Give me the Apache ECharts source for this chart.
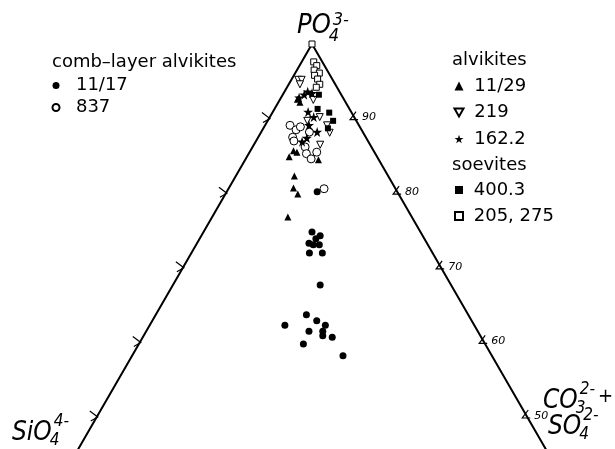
<!DOCTYPE html>
<html>
<head>
<meta charset="utf-8">
<script src="https://cdn.jsdelivr.net/npm/echarts@6/dist/echarts.min.js"></script>
<style>
  html, body { margin: 0; padding: 0; background: #fff; }
  #chart { width: 615px; height: 449px; }
</style>
</head>
<body>
<div id="chart"></div>
<script>
// Ternary compositions, each point as [PO4 %, CO3+SO4 %]; SiO4 % is the remainder.
const comb_11_17 = [
  [74.8, 12.6], [74.3, 13.8], [73.9, 13.5], [73.3, 13.0], [73.1, 13.6], [73.1, 14.3],
  [72.0, 13.7], [72.0, 15.2], [67.7, 17.1], [63.7, 17.5], [62.9, 19.1], [62.3, 20.4],
  [62.3, 15.7], [61.5, 18.9], [61.5, 20.5], [60.9, 20.8], [60.7, 22.0], [59.8, 19.1],
  [58.2, 24.5], [80.2, 10.5]
];
const comb_837 = [
  [89.1, 2.9], [88.5, 3.9], [88.9, 4.2], [87.5, 4.0], [88.2, 5.6], [87.0, 4.4],
  [86.2, 6.1], [85.5, 7.8], [85.3, 6.7], [84.6, 7.6], [80.6, 11.1]
];
const alv_11_29 = [
  [92.2, 2.5], [92.6, 2.0], [85.7, 5.0], [85.5, 5.5], [84.9, 4.9], [84.5, 8.5],
  [82.3, 6.8], [80.7, 7.5], [79.9, 8.4], [76.8, 8.8]
];
const alv_219 = [
  [95.2, 0.8], [95.2, 1.2], [94.6, 1.3], [92.5, 3.9], [89.7, 4.6], [90.2, 5.8],
  [89.1, 7.2], [88.1, 8.0], [86.5, 7.7]
];
const alv_162_2 = [
  [90.9, 4.1], [90.2, 5.1], [89.1, 5.1], [88.2, 6.5], [87.4, 5.7], [86.9, 5.4],
  [93.6, 2.7], [93.2, 2.5], [92.8, 2.1], [93.4, 3.3]
];
const soev_400_3 = [
  [93.2, 4.2], [91.3, 5.0], [90.8, 6.6], [89.7, 7.6], [88.7, 7.5]
];
const soev_205_275 = [
  [100, 0], [97.6, 1.4], [97.1, 2.0], [96.5, 2.0], [96.1, 2.8], [95.8, 2.4],
  [95.3, 3.0], [94.6, 3.6], [94.2, 3.4]
];

// PO4 levels marked along both sides of the triangle
const axisTicks = [90, 80, 70, 60, 50];
// lowest PO4 level the triangle sides are drawn down to
const sideEnd = 45.5;

// ternary [PO4, CO3+SO4] -> cartesian [x, y] (x: 0..100 base, y: PO4 level)
function toXY(p, c) { return [c + p / 2, p]; }
function pts(list) { return list.map(([p, c]) => toXY(p, c)); }

const TXT = '#000';
const LEG_FONT = 'DejaVu Sans';
const BIG_FONT = '"DejaVu Sans Condensed", "DejaVu Sans"';

const STAR = 'path://M50,0 L61.8,36.2 L100,36.2 L69.1,58.6 L80.9,95.1 L50,72.6 L19.1,95.1 L30.9,58.6 L0,36.2 L38.2,36.2 Z';
const DOWN_TRI = 'path://M0,0 L100,0 L50,86.6 Z';

function scatter(name, data, symbol, size, filled) {
  return {
    name, type: 'scatter', data: pts(data), symbol, symbolSize: size,
    itemStyle: filled
      ? { color: '#000', opacity: 1 }
      : { color: '#fff', borderColor: '#000', borderWidth: 1, opacity: 1 },
    emphasis: { disabled: true }, z: 5
  };
}

// ion labels: italic formula with a subscript and a superscript after it
const measure = document.createElement('canvas').getContext('2d');
function italic(size) { return 'italic ' + size + 'px ' + BIG_FONT; }
function txt(text, x, baseline, size) {
  // text is centred on y; the baseline sits about 0.35em below the centre
  return { type: 'text', x, y: baseline - 0.35 * size, style: { text, font: italic(size), fill: TXT, verticalAlign: 'middle' } };
}
function ion(x, baseline, main, subT, supT, size, small, subDrop, supRise) {
  measure.font = italic(size);
  const w = measure.measureText(main).width;
  return [
    txt(main, x, baseline, size),
    txt(subT, x + w - 2, baseline + subDrop, small),
    txt(supT, x + w + 2, baseline - supRise, small)
  ];
}

const chart = echarts.init(document.getElementById('chart'), null, { renderer: 'canvas' });

const legendText = { fontFamily: LEG_FONT, fontSize: 18, lineHeight: 20, color: TXT };

chart.setOption({
  animation: false,
  backgroundColor: '#fff',
  grid: { left: 10.65, right: 1.65, top: 44, bottom: 2.16 },
  xAxis: { type: 'value', min: 15, max: 85, show: false },
  yAxis: { type: 'value', min: 46, max: 100, show: false },
  legend: [
    {
      orient: 'vertical', left: 51.5, top: 75.5, padding: 0, itemGap: 2,
      itemWidth: 7, itemHeight: 7, selectedMode: false,
      data: ['11/17', '837'], formatter: n => '  ' + n, textStyle: legendText
    },
    {
      orient: 'vertical', left: 453.5, top: 76, padding: 0, itemGap: 6.5,
      itemWidth: 9, itemHeight: 9, selectedMode: false,
      data: ['11/29', '219', '162.2'], formatter: n => ' ' + n, textStyle: legendText
    },
    {
      orient: 'vertical', left: 454, top: 180, padding: 0, itemGap: 6,
      itemWidth: 8, itemHeight: 8, selectedMode: false,
      data: ['400.3', '205, 275'], formatter: n => ' ' + n, textStyle: legendText
    }
  ],
  graphic: [
    { type: 'text', x: 52, y: 62, style: { text: 'comb\u2013layer alvikites', font: '18px ' + LEG_FONT, fill: TXT, verticalAlign: 'middle' } },
    { type: 'text', x: 452, y: 60.8, style: { text: 'alvikites', font: '18px ' + LEG_FONT, fill: TXT, verticalAlign: 'middle' } },
    { type: 'text', x: 452, y: 165.8, style: { text: 'soevites', font: '18px ' + LEG_FONT, fill: TXT, verticalAlign: 'middle' } },
    // apex: PO4 3-
    ...ion(297, 35, 'PO', '4', '3-', 27, 18, 8, 8),
    // lower left: SiO4 4-
    ...ion(12, 442, 'SiO', '4', '4-', 26, 17, 5, 14),
    // lower right: CO3 2- + SO4 2-
    ...ion(543, 410, 'CO', '3', '2-', 26, 17, 5, 14),
    txt('+', 598, 404, 20),
    ...ion(548, 436, 'SO', '4', '2-', 26, 17, 5, 14)
  ],
  series: [
    {
      name: 'frame', type: 'line', clip: false, symbol: 'none', silent: true,
      data: [toXY(sideEnd, 0), toXY(100, 0), toXY(sideEnd, 100 - sideEnd)],
      lineStyle: { color: '#000', width: 2 }, z: 2
    },
    {
      name: 'ticks', type: 'custom', clip: false, silent: true, z: 3,
      data: axisTicks.map(v => [v / 2, v]),
      renderItem(params, api) {
        const p = api.value(1);
        const L = api.coord(toXY(p, 0));
        const R = api.coord(toXY(p, 100 - p));
        const st = { stroke: '#000', lineWidth: 1.2, fill: null };
        return {
          type: 'group',
          children: [
            { type: 'polyline', shape: { points: [[L[0] - 7, L[1] - 6], [L[0] + 1, L[1]], [L[0] - 6, L[1] + 4]] }, style: st },
            { type: 'polyline', shape: { points: [[R[0] + 1, R[1] - 7], [R[0] - 5, R[1] + 1], [R[0] + 3, R[1] + 1]] }, style: st },
            { type: 'text', x: R[0] + 7, y: R[1] - 1, style: { text: String(p), font: 'italic 11px DejaVu Sans', fill: TXT, verticalAlign: 'middle' } }
          ]
        };
      }
    },
    scatter('11/17', comb_11_17, 'circle', 7, true),
    scatter('837', comb_837, 'circle', 8, false),
    scatter('11/29', alv_11_29, 'triangle', 7, true),
    scatter('219', alv_219, DOWN_TRI, 7, false),
    scatter('162.2', alv_162_2, STAR, 10, true),
    scatter('400.3', soev_400_3, 'rect', 6, true),
    scatter('205, 275', soev_205_275, 'rect', 6, false)
  ]
});
</script>
</body>
</html>
